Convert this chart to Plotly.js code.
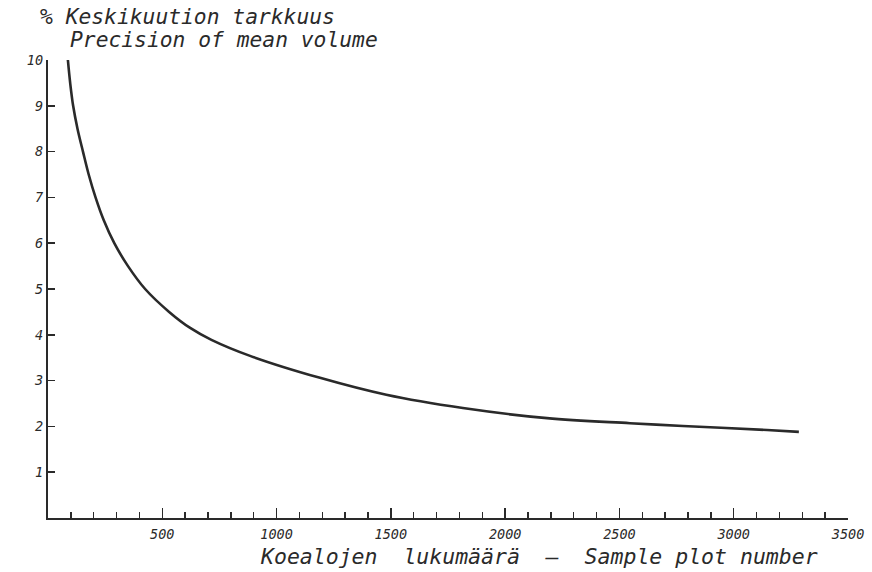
<!DOCTYPE html>
<html>
<head>
<meta charset="utf-8">
<script src="https://cdn.plot.ly/plotly-3.0.1.min.js"></script>
<style>html,body{margin:0;padding:0;background:#fff;}#chart{width:872px;height:572px;}</style>
</head>
<body>
<div id="chart"></div>
<script>
// Sample plot number vs. precision (%) of mean volume
const sampleNumber = [87, 97, 110, 129, 153, 178, 208, 244, 290, 350, 425, 530, 622, 715, 884, 1190, 1480, 1815, 2183, 2546, 2778, 3146, 3285];
const precisionPct = [10, 9.5, 9, 8.5, 8, 7.5, 7, 6.5, 6, 5.5, 5, 4.5, 4.15, 3.89, 3.54, 3.06, 2.69, 2.40, 2.18, 2.07, 2.01, 1.92, 1.88];
const xTickVals = [500, 1000, 1500, 2000, 2500, 3000, 3500];
const xTickText = ['500', '1000', '1500', '2000', '2500', '3000', '3500'];
const yTickVals = [1, 2, 3, 4, 5, 6, 7, 8, 9, 10];
const yTickText = ['1', '2', '3', '4', '5', '6', '7', '8', '9', '10'];
const titleLine1 = '% Keskikuution tarkkuus';
const titleLine2 = 'Precision of mean volume';
const xTitle = 'Koealojen\u00a0\u00a0lukumäärä\u00a0\u00a0—\u00a0\u00a0Sample plot number';

const ink = '#2a2a2a';
const handFont = {family: '"DejaVu Sans Mono", monospace', style: 'italic', color: ink};

const trace = {
  x: sampleNumber,
  y: precisionPct,
  type: 'scatter',
  mode: 'lines',
  line: {color: ink, width: 2.6, shape: 'spline', smoothing: 1},
  hoverinfo: 'x+y'
};

const layout = {
  width: 872, height: 572,
  paper_bgcolor: '#ffffff', plot_bgcolor: '#ffffff',
  margin: {l: 48, r: 24, t: 60, b: 54},
  showlegend: false,
  xaxis: {
    range: [0, 3500], showgrid: false, zeroline: false,
    showline: true, linecolor: ink, linewidth: 2.2,
    tickvals: xTickVals, ticktext: xTickText,
    ticks: 'inside', ticklen: 10, tickwidth: 1.5, tickcolor: ink,
    ticklabelstandoff: 3,
    tickfont: Object.assign({size: 13.5}, handFont),
    minor: {dtick: 100, tick0: 0, ticks: 'inside', ticklen: 6, tickwidth: 1.3, tickcolor: ink, showgrid: false}
  },
  yaxis: {
    range: [0, 10], showgrid: false, zeroline: false,
    showline: true, linecolor: ink, linewidth: 2.2,
    tickvals: yTickVals, ticktext: yTickText,
    ticks: 'inside', ticklen: 7, tickwidth: 1.5, tickcolor: ink,
    tickfont: Object.assign({size: 13.5}, handFont)
  },
  annotations: [
    {text: titleLine1, xref: 'paper', yref: 'paper', x: -0.0125, y: 1.094, xanchor: 'left', yanchor: 'middle', showarrow: false, font: Object.assign({size: 21.3}, handFont)},
    {text: titleLine2, xref: 'paper', yref: 'paper', x: 0.025, y: 1.044, xanchor: 'left', yanchor: 'middle', showarrow: false, font: Object.assign({size: 21.3}, handFont)},
    {text: xTitle, xref: 'paper', yref: 'paper', x: 0.2625, y: -0.085, xanchor: 'left', yanchor: 'middle', showarrow: false, font: Object.assign({size: 21.5}, handFont)}
  ]
};

Plotly.newPlot('chart', [trace], layout, {displayModeBar: false, staticPlot: true});
</script>
</body>
</html>
